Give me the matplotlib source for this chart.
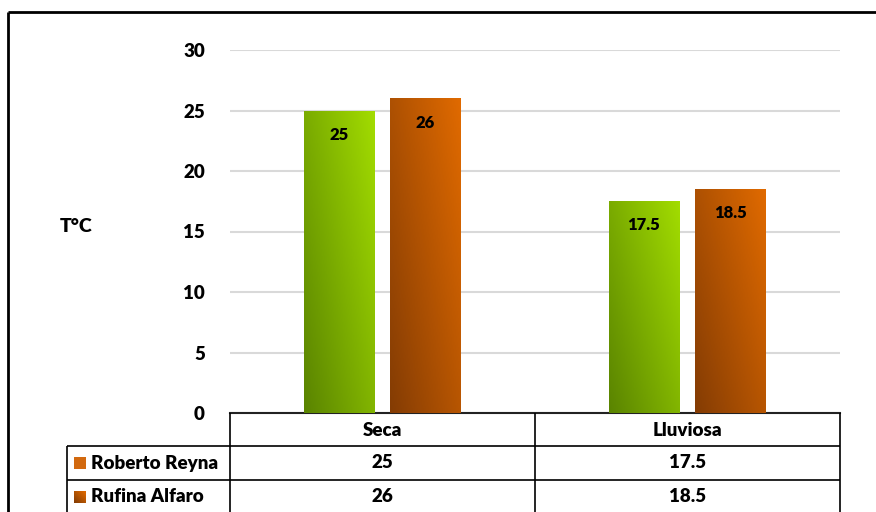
import numpy as np
import matplotlib.pyplot as plt
from matplotlib.lines import Line2D
from matplotlib.patches import Rectangle
from matplotlib.colors import LinearSegmentedColormap

# ---------------- data ----------------
categories = ["Seca", "Lluviosa"]
series_names = ["Roberto Reyna", "Rufina Alfaro"]
roberto = [25, 17.5]
rufina = [26, 18.5]
yticks = [0, 5, 10, 15, 20, 25, 30]

W, H = 876, 512
plt.rcParams['font.family'] = ['Lato', 'DejaVu Sans']
FW = "heavy"

green_cm = LinearSegmentedColormap.from_list("g", ["#5a8400", "#a2dc00"])
orange_cm = LinearSegmentedColormap.from_list("o", ["#843c04", "#e06a00"])


def px(x, y):
    # pixel coords (top-left origin) -> figure fraction
    return x / W, 1 - y / H


def fig_line(fig, x0, y0, x1, y1, lw=1.2, color="black"):
    (a, b), (c, d) = px(x0, y0), px(x1, y1)
    fig.add_artist(Line2D([a, c], [b, d], color=color, lw=lw, solid_capstyle="butt"))


def grad_bar(ax, x, w, h, cmap):
    u, v = np.meshgrid(np.linspace(0, 1, 40), np.linspace(0, 1, 120))
    t = 0.55 * u + 0.45 * v
    im = ax.imshow(t, cmap=cmap, vmin=0, vmax=1, origin="lower", aspect="auto",
                   extent=(x - w / 2, x + w / 2, 0, h), zorder=3)
    r = Rectangle((x - w / 2, 0), w, h, transform=ax.transData, fill=False, lw=0)
    ax.add_patch(r)
    im.set_clip_path(r)


fig = plt.figure(figsize=(W / 100, H / 100), dpi=100)
l, t = 230, 50
r, b = 840, 413
ax = fig.add_axes([l / W, 1 - b / H, (r - l) / W, (b - t) / H])

n = len(categories)
ax.set_xlim(0, n)
ax.set_ylim(0, 30)
bw = 0.23
for i in range(n):
    xg = i + 0.357
    xo = i + 0.641
    grad_bar(ax, xg, bw, roberto[i], green_cm)
    grad_bar(ax, xo, bw, rufina[i], orange_cm)
    ax.text(xg, roberto[i] - 2.0, f"{roberto[i]:g}", ha="center", va="center",
            fontsize=12, fontweight=FW, zorder=5)
    ax.text(xo, rufina[i] - 2.0, f"{rufina[i]:g}", ha="center", va="center",
            fontsize=12, fontweight=FW, zorder=5)

ax.set_yticks(yticks)
ax.set_yticklabels([str(v) for v in yticks], fontsize=13.5, fontweight=FW)
ax.tick_params(axis="y", length=0, pad=18)
ax.set_xticks([])
ax.grid(axis="y", color="#d9d9d9", lw=1.5, zorder=0)
ax.set_axisbelow(True)
for s in ["left", "right", "top"]:
    ax.spines[s].set_visible(False)
ax.spines["bottom"].set_linewidth(1.5)
ax.spines["bottom"].set_color("#222222")

fig.text(*px(76, 227), "T°C", ha="center", va="center", fontsize=14, fontweight=FW)

# outer chart border (cropped at right/bottom)
fig_line(fig, 8, 12, 8, H, lw=2)
fig_line(fig, 8, 12, W, 12, lw=2)

# data table
col_x = [230, 535, 840]
row_y = [413, 446, 480, 514]
for x in col_x:
    fig_line(fig, x, 413, x, H)
fig_line(fig, 67, 446, 67, H)
for y in row_y[1:3]:
    fig_line(fig, 67, y, 840, y)

for i, c in enumerate(categories):
    cx = (col_x[i] + col_x[i + 1]) / 2
    fig.text(*px(cx, 430), c, ha="center", va="center", fontsize=13.5, fontweight=FW)
    fig.text(*px(cx, 463), f"{roberto[i]:g}", ha="center", va="center", fontsize=13.5, fontweight=FW)
    fig.text(*px(cx, 497), f"{rufina[i]:g}", ha="center", va="center", fontsize=13.5, fontweight=FW)

# legend keys inside the table
for j, name in enumerate(series_names):
    yc = 463 + j * 34
    x0, y0 = px(74, yc + 6)
    kax = fig.add_axes([x0, y0, 12 / W, 12 / H])
    kax.axis("off")
    if j == 0:
        kax.add_patch(Rectangle((0, 0), 1, 1, color="#d2690f"))
    else:
        u, v = np.meshgrid(np.linspace(0, 1, 10), np.linspace(0, 1, 10))
        kax.imshow(0.5 * u + 0.5 * v, cmap=orange_cm, origin="lower", extent=(0, 1, 0, 1), aspect="auto")
    kax.set_xlim(0, 1); kax.set_ylim(0, 1)
    fig.text(*px(91, yc), name, ha="left", va="center", fontsize=13.5, fontweight=FW)

fig.savefig("out.png", dpi=100)
